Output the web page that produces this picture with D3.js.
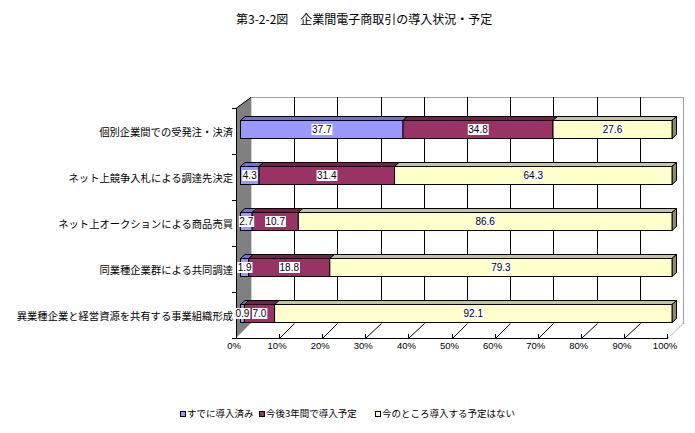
<!DOCTYPE html>
<html><head><meta charset="utf-8">
<script src="https://cdn.jsdelivr.net/npm/d3@7"></script>
<style>
html,body{margin:0;padding:0;background:#fff;}
svg{display:block;}
text{font-family:"Noto Sans CJK JP","Noto Sans",sans-serif;fill:#000;}
</style></head>
<body>
<svg id="chart" width="695" height="433"></svg>
<script>
const title = "第3-2-2図　企業間電子商取引の導入状況・予定";
const categories = [
  "個別企業間での受発注・決済",
  "ネット上競争入札による調達先決定",
  "ネット上オークションによる商品売買",
  "同業種企業群による共同調達",
  "異業種企業と経営資源を共有する事業組織形成"
];
const seriesNames = ["すでに導入済み", "今後3年間で導入予定", "今のところ導入する予定はない"];
const alreadyIntroduced = [37.7, 4.3, 2.7, 1.9, 0.9];
const plannedIn3Years = [34.8, 31.4, 10.7, 18.8, 7.0];
const noPlans = [27.6, 64.3, 86.6, 79.3, 92.1];
const tickValues = [0, 10, 20, 30, 40, 50, 60, 70, 80, 90, 100];
const frontColors = ["#9999ff", "#993366", "#ffffcc"];
const topColors = ["#7373c8", "#6e2449", "#c4c4a2"];
const sideColors = ["#5a5aa0", "#4d1933", "#8c8c6c"];

const svg = d3.select("#chart");
const fmt = d3.format(".1f");

// table
const rows = categories.map((c, i) => ({
  cat: c, k0: alreadyIntroduced[i], k1: plannedIn3Years[i], k2: noPlans[i]
}));
const stack = d3.stack().keys(["k0", "k1", "k2"]).offset(d3.stackOffsetExpand);
const stacked = stack(rows);

// scales
const xFront = d3.scaleLinear().domain([0, 1]).range([236, 667]);
const xBack = d3.scaleLinear().domain([0, 1]).range([251, 683]);
const xBar = d3.scaleLinear().domain([0, 1]).range([240.5, 672]);
const yBar = d3.scaleBand().domain(categories).range([106, 336]).paddingInner(28 / 46).paddingOuter(14 / 46);
const yCat = d3.scaleBand().domain(categories).range([108, 338]);
const backTop = 97, backBottom = 323, frontTop = 108, frontBottom = 338;
const bdx = 4.5, bdy = 4;

// title
svg.append("text").attr("x", 236).attr("y", 24)
  .style("font-size", "12px").text(title);

// back wall
svg.append("rect").attr("x", xBack(0)).attr("y", backTop + 0.5)
  .attr("width", xBack(1) - xBack(0) + 0.5).attr("height", backBottom - backTop)
  .attr("fill", "#fff").attr("stroke", "#a0a0a0").attr("stroke-width", 1);
// floor
svg.append("polygon")
  .attr("points", [[xFront(0), frontBottom], [xBack(0), backBottom], [xBack(1), backBottom], [xFront(1), frontBottom]].join(" "))
  .attr("fill", "#fff").attr("stroke", "none");
svg.append("line").attr("x1", xFront(1) + 0.5).attr("y1", frontBottom + 0.5)
  .attr("x2", xBack(1) + 0.5).attr("y2", backBottom + 0.5)
  .attr("stroke", "#a0a0a0").attr("stroke-dasharray", "2,1");
// left wall
svg.append("polygon")
  .attr("points", [[xFront(0), frontTop], [xBack(0), backTop], [xBack(0), backBottom], [xFront(0), frontBottom]].join(" "))
  .attr("fill", "#808080").attr("stroke", "none");
svg.append("polyline")
  .attr("points", [[xFront(0) + 0.5, frontBottom], [xFront(0) + 0.5, frontTop], [xBack(0), backTop + 0.5]].join(" "))
  .attr("fill", "none").attr("stroke", "#000");

// gridlines
const inner = tickValues.filter(t => t > 0 && t < 100).map(t => t / 100);
svg.selectAll("line.gridBack").data(inner).join("line").attr("class", "gridBack")
  .attr("x1", d => Math.round(xBack(d)) + 0.5).attr("x2", d => Math.round(xBack(d)) + 0.5)
  .attr("y1", backTop).attr("y2", backBottom).attr("stroke", "#000");
svg.selectAll("line.gridFloor").data(inner).join("line").attr("class", "gridFloor")
  .attr("x1", d => Math.round(xFront(d)) + 0.5).attr("y1", frontBottom + 0.5)
  .attr("x2", d => Math.round(xBack(d)) + 0.5).attr("y2", backBottom + 0.5).attr("stroke", "#000");

// front axis
svg.append("line").attr("x1", xFront(0)).attr("x2", xFront(1) + 1)
  .attr("y1", frontBottom + 0.5).attr("y2", frontBottom + 0.5).attr("stroke", "#000");
svg.selectAll("line.xtick").data(tickValues).join("line").attr("class", "xtick")
  .attr("x1", d => Math.round(xFront(d / 100)) + 0.5).attr("x2", d => Math.round(xFront(d / 100)) + 0.5)
  .attr("y1", frontBottom - 4).attr("y2", frontBottom + 0.5).attr("stroke", "#000");
svg.selectAll("text.xlab").data(tickValues).join("text").attr("class", "xlab")
  .attr("x", d => xFront(d / 100) - 2).attr("y", 349)
  .attr("text-anchor", "middle").style("font-size", "9.5px")
  .style("font-family", "'Liberation Sans', Arial, sans-serif")
  .text(d => d + "%");

// category axis ticks and labels
const catBounds = categories.map(c => yCat(c)).concat([yCat(categories[categories.length - 1]) + yCat.bandwidth()]);
svg.selectAll("line.ytick").data(catBounds).join("line").attr("class", "ytick")
  .attr("x1", xFront(0) - 4).attr("x2", xFront(0))
  .attr("y1", d => Math.round(d) + 0.5).attr("y2", d => Math.round(d) + 0.5).attr("stroke", "#000");
svg.selectAll("text.ylab").data(categories).join("text").attr("class", "ylab")
  .attr("x", 233).attr("y", d => yCat(d) + yCat.bandwidth() / 2 + 2)
  .attr("text-anchor", "end").attr("dominant-baseline", "middle")
  .style("font-size", "10.3px").text(d => d);

// bars
const gBars = svg.append("g");
stacked.forEach((layer, si) => {
  layer.forEach((d, ci) => {
    const cat = categories[ci];
    const x1 = xBar(d[0]), x2 = xBar(d[1]);
    const yt = yBar(cat) + 0.5, h = yBar.bandwidth();
    gBars.append("polygon")
      .attr("points", [[x1, yt], [x1 + bdx, yt - bdy], [x2 + bdx, yt - bdy], [x2, yt]].join(" "))
      .attr("fill", topColors[si]).attr("stroke", "#000").attr("stroke-width", 1).attr("stroke-linejoin", "round");
    if (si === stacked.length - 1) {
      gBars.append("polygon")
        .attr("points", [[x2, yt], [x2 + bdx, yt - bdy], [x2 + bdx, yt + h - bdy], [x2, yt + h]].join(" "))
        .attr("fill", sideColors[si]).attr("stroke", "#000").attr("stroke-width", 1).attr("stroke-linejoin", "round");
    }
  });
});
stacked.forEach((layer, si) => {
  layer.forEach((d, ci) => {
    const cat = categories[ci];
    const x1 = xBar(d[0]), x2 = xBar(d[1]);
    gBars.append("rect")
      .attr("x", x1).attr("y", yBar(cat) + 0.5)
      .attr("width", x2 - x1).attr("height", yBar.bandwidth())
      .attr("fill", frontColors[si]).attr("stroke", "#000").attr("stroke-width", 1);
  });
});

// data labels
const seriesValues = [alreadyIntroduced, plannedIn3Years, noPlans];
const gLab = svg.append("g");
stacked.forEach((layer, si) => {
  layer.forEach((d, ci) => {
    const cat = categories[ci];
    const cx = (xBar(d[0]) + xBar(d[1])) / 2;
    const cy = yBar(cat) + yBar.bandwidth() / 2 + 0.5;
    const g = gLab.append("g");
    const t = g.append("text").attr("x", cx).attr("y", cy + 3.5)
      .attr("text-anchor", "middle").style("font-size", "10px")
      .style("font-family", "'Liberation Sans', Arial, sans-serif")
      .text(fmt(seriesValues[si][ci]));
    const bb = t.node().getBBox();
    g.insert("rect", "text").attr("x", bb.x - 0.5).attr("y", cy - 5.5)
      .attr("width", bb.width + 1).attr("height", 11).attr("fill", "#fff");
  });
});

// legend
const legendX = [180, 259, 375];
const lg = svg.append("g");
seriesNames.forEach((s, i) => {
  lg.append("rect").attr("x", legendX[i] + 0.5).attr("y", 411.5).attr("width", 5).attr("height", 5)
    .attr("fill", frontColors[i]).attr("stroke", "#000");
  lg.append("text").attr("x", legendX[i] + 7).attr("y", 414).attr("dominant-baseline", "middle")
    .style("font-size", "9.5px").text(s);
});
</script>
</body></html>
